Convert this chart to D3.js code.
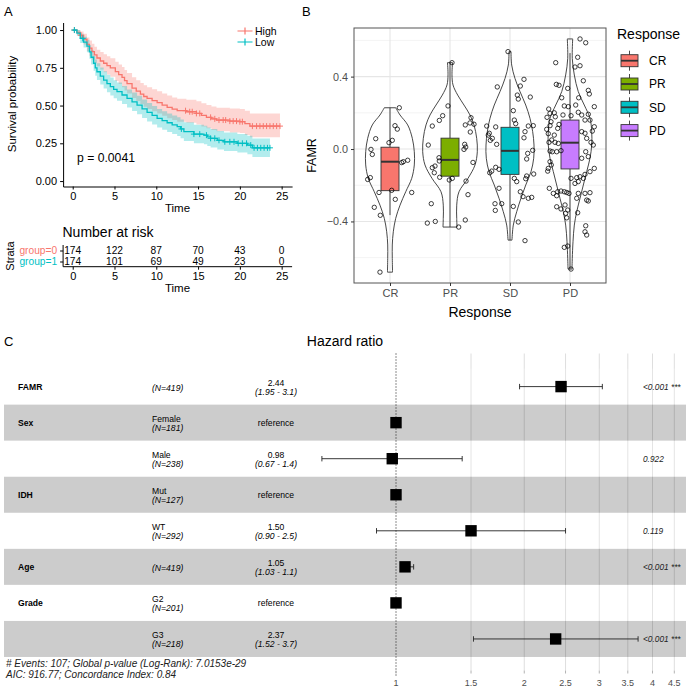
<!DOCTYPE html>
<html><head><meta charset="utf-8">
<script src="https://cdn.jsdelivr.net/npm/d3@7"></script>
<style>body{margin:0;background:#fff} text{font-family:"Liberation Sans",Arial,sans-serif}</style>
</head><body><svg id="c" width="690" height="689"></svg>
<script>
// ================= DATA =================
// Panel A: Kaplan-Meier
const strataLabels = ["High", "Low"];
const strataColors = ["#F8766D", "#00BFC4"];
const highTime = [0,0.5,0.9,1.3,1.7,2.0,2.3,2.6,2.9,3.3,3.7,4.1,4.5,5.1,5.5,5.9,6.2,6.5,7.1,7.6,8.1,8.5,8.9,9.5,10.1,10.7,11.3,11.9,12.5,13.6,14.8,15.4,16.0,16.6,17.2,18.8,20.0,20.6,21.2];
const highSurv = [1.0,0.985,0.965,0.94,0.905,0.88,0.857,0.835,0.815,0.795,0.78,0.765,0.75,0.725,0.705,0.686,0.665,0.645,0.615,0.595,0.576,0.56,0.547,0.533,0.519,0.503,0.488,0.476,0.466,0.459,0.448,0.435,0.422,0.412,0.404,0.397,0.393,0.38,0.364];
const highUpper = [1,1.0,0.99,0.975,0.95,0.93,0.91,0.89,0.87,0.855,0.84,0.826,0.813,0.79,0.772,0.755,0.735,0.715,0.687,0.667,0.65,0.635,0.622,0.608,0.595,0.58,0.566,0.554,0.545,0.538,0.528,0.516,0.503,0.494,0.486,0.48,0.477,0.465,0.448];
const highLower = [1,0.965,0.94,0.905,0.86,0.83,0.805,0.78,0.76,0.738,0.72,0.705,0.69,0.663,0.642,0.622,0.6,0.58,0.55,0.53,0.51,0.492,0.478,0.463,0.448,0.432,0.416,0.404,0.393,0.386,0.375,0.362,0.349,0.338,0.33,0.322,0.318,0.305,0.29];
const highEnd = 24.8;
const highCensor = [0.2,1.0,13.5,14.0,14.3,14.8,15.2,16.5,17.0,17.5,18.0,18.3,18.8,19.2,19.6,20.0,20.3,21.5,22.0,22.4,22.8,23.2,23.6,24.0,24.4,24.8];

const lowTime = [0,0.5,0.9,1.3,1.7,2.0,2.2,2.5,2.7,2.9,3.3,3.7,4.1,4.5,4.9,5.3,5.9,6.5,7.1,7.7,8.3,8.9,9.5,10.1,10.7,11.3,11.9,12.5,12.9,13.3,14.5,15.7,16.1,16.5,17.3,18.1,19.7,20.9,21.5];
const lowSurv = [1.0,0.98,0.945,0.92,0.894,0.855,0.82,0.78,0.75,0.724,0.695,0.669,0.645,0.625,0.607,0.592,0.57,0.547,0.525,0.503,0.478,0.455,0.435,0.415,0.4,0.386,0.372,0.36,0.345,0.327,0.311,0.304,0.293,0.283,0.27,0.26,0.25,0.238,0.22];
const lowUpper = [1,1.0,0.975,0.955,0.935,0.9,0.868,0.83,0.805,0.78,0.752,0.727,0.704,0.685,0.667,0.652,0.63,0.607,0.586,0.565,0.54,0.517,0.497,0.477,0.462,0.448,0.434,0.422,0.407,0.389,0.373,0.366,0.355,0.345,0.332,0.322,0.312,0.3,0.282];
const lowLower = [1,0.96,0.915,0.885,0.853,0.81,0.772,0.73,0.697,0.67,0.64,0.613,0.588,0.567,0.548,0.532,0.51,0.487,0.464,0.442,0.417,0.394,0.374,0.354,0.339,0.325,0.311,0.299,0.284,0.266,0.25,0.243,0.232,0.222,0.209,0.199,0.189,0.177,0.16];
const lowEnd = 23.6;
const lowCensor = [0.2,1.2,13.0,14.5,15.2,16.0,16.5,17.0,17.5,18.2,18.8,19.3,19.8,20.3,20.8,21.3,21.7,22.1,22.5,22.9,23.3,23.6];

const timeTicks = [0,5,10,15,20,25];
const survTicks = [0,0.25,0.5,0.75,1];
const riskGroups = ["group=0","group=1"];
const risk0 = [174,122,87,70,43,0];
const risk1 = [174,101,69,49,23,0];

// Panel B: violin/box
const respCats = ["CR","PR","SD","PD"];
const respColors = ["#F8766D","#7CAE00","#00BFC4","#C77CFF"];
const boxLow  = [-0.365,-0.431,-0.503,-0.663];
const boxQ1   = [-0.23,-0.15,-0.14,-0.11];
const boxMed  = [-0.07,-0.06,-0.01,0.035];
const boxQ3   = [0.01,0.06,0.12,0.16];
const boxHigh = [0.228,0.477,0.385,0.53];
const famrTicks = [-0.4,0,0.4];
const famrMinor = [-0.6,-0.2,0.2,0.6];
// violin outline: [FAMR value, half width in category units]
const violinCR = [[0.228,0.095],[0.188,0.167],[0.133,0.295],[0.059,0.372],[-0.015,0.405],[-0.088,0.405],[-0.162,0.362],[-0.236,0.262],[-0.31,0.167],[-0.383,0.095],[-0.457,0.055],[-0.53,0.038],[-0.604,0.038],[-0.68,0.042]];
const violinPR = [[0.477,0.042],[0.41,0.033],[0.354,0.05],[0.298,0.128],[0.243,0.233],[0.188,0.333],[0.133,0.4],[0.059,0.445],[-0.015,0.455],[-0.088,0.417],[-0.162,0.3],[-0.236,0.15],[-0.31,0.112],[-0.383,0.112],[-0.431,0.117]];
const violinSD = [[0.538,0.017],[0.464,0.028],[0.39,0.083],[0.317,0.167],[0.243,0.262],[0.17,0.333],[0.096,0.378],[0.022,0.4],[-0.051,0.395],[-0.125,0.35],[-0.199,0.262],[-0.272,0.183],[-0.346,0.112],[-0.42,0.055],[-0.503,0.033]];
const violinPD = [[0.608,0.045],[0.5,0.038],[0.409,0.072],[0.317,0.138],[0.243,0.238],[0.17,0.333],[0.096,0.362],[0.022,0.362],[-0.051,0.333],[-0.125,0.278],[-0.199,0.222],[-0.272,0.167],[-0.346,0.112],[-0.42,0.072],[-0.512,0.05],[-0.604,0.038],[-0.663,0.033]];
// jittered points: [jitter in category units, FAMR value]
const pointsCR = [[0.155,0.228],[0.083,0.129],[0.122,0.11],[-0.238,0.057],[0.038,0.048],[-0.017,0.035],[-0.317,-0.002],[-0.295,-0.03],[0.222,-0.07],[0.295,-0.062],[0.195,-0.075],[-0.328,-0.158],[-0.372,-0.168],[-0.183,-0.24],[0.028,-0.228],[0.362,-0.24],[0.088,-0.278],[-0.262,-0.322],[-0.162,-0.366],[-0.167,-0.68]];
const pointsPR = [[0.033,0.477],[-0.033,0.238],[-0.122,0.184],[-0.178,0.158],[-0.295,0.127],[0.35,0.173],[0.333,0.144],[0.4,0.137],[0.255,0.133],[0.338,0.094],[-0.362,0.022],[0.245,0.026],[0.262,0.011],[0.233,-0.002],[-0.183,-0.048],[-0.178,-0.066],[0.383,-0.074],[-0.25,-0.094],[-0.295,-0.103],[-0.262,-0.131],[-0.172,-0.156],[0.038,-0.162],[-0.012,-0.171],[0.267,-0.177],[0.3,-0.252],[-0.312,-0.302],[-0.378,-0.409],[-0.245,-0.40],[0.255,-0.392],[0.145,-0.431]];
const pointsSD = [[-0.033,0.538],[0.233,0.385],[-0.212,0.343],[0.172,0.348],[0.122,0.298],[0.138,0.276],[0.338,0.287],[0.055,0.212],[0.072,0.16],[0.095,0.14],[0.305,0.127],[0.388,0.129],[-0.388,0.127],[-0.238,0.122],[-0.345,0.087],[-0.295,0.059],[-0.362,0.077],[-0.328,0.048],[0.25,0.096],[0.233,0.062],[-0.222,0.026],[0.295,-0.024],[0.378,-0.007],[0.278,-0.055],[-0.238,-0.101],[-0.183,-0.112],[-0.305,-0.122],[-0.338,-0.131],[0.395,-0.138],[0.278,-0.149],[0.262,-0.164],[0.072,-0.162],[0.112,-0.18],[-0.183,-0.217],[0.172,-0.236],[0.217,-0.263],[0.305,-0.272],[0.362,-0.267],[-0.25,-0.302],[-0.138,-0.302],[-0.245,-0.339],[0.055,-0.317],[0.138,-0.403],[0.25,-0.506]];
const pointsPD = [[0.167,0.608],[0.262,0.587],[-0.238,0.477],[0.128,0.507],[0.167,0.46],[0.083,0.453],[0.222,0.377],[-0.228,0.357],[-0.183,0.352],[-0.038,0.335],[0.305,0.324],[0.322,0.304],[0.145,0.283],[-0.138,0.283],[0.405,0.234],[-0.095,0.238],[-0.028,0.234],[0.095,0.243],[-0.355,0.221],[-0.333,0.197],[-0.383,0.175],[-0.262,0.2],[-0.245,0.178],[-0.117,0.188],[0.017,0.184],[0.138,0.203],[0.195,0.188],[0.305,0.192],[0.25,0.16],[0.333,0.16],[0.405,0.123],[0.372,0.099],[-0.317,0.151],[-0.333,0.129],[-0.388,0.109],[-0.362,0.085],[-0.262,0.077],[-0.205,0.114],[-0.183,0.136],[0.25,0.087],[0.195,0.096],[0.278,0.059],[0.35,0.037],[0.388,0.022],[-0.305,0.05],[-0.35,0.037],[-0.25,0.037],[-0.195,0.031],[-0.333,-0.011],[-0.295,-0.015],[-0.222,-0.015],[-0.15,-0.009],[0.262,-0.015],[0.305,-0.042],[0.195,-0.051],[-0.333,-0.07],[-0.312,-0.088],[-0.362,-0.107],[-0.372,-0.122],[0.405,-0.107],[0.333,-0.125],[0.25,-0.14],[0.017,-0.162],[0.112,-0.158],[0.167,-0.153],[0.222,-0.162],[0.138,-0.18],[0.083,-0.19],[-0.345,-0.217],[-0.205,-0.236],[-0.15,-0.232],[-0.095,-0.236],[-0.055,-0.24],[-0.278,-0.245],[-0.222,-0.258],[-0.017,-0.245],[0.138,-0.245],[0.25,-0.245],[0.333,-0.241],[0.112,-0.272],[0.278,-0.282],[0.305,-0.287],[-0.083,-0.309],[-0.222,-0.319],[-0.038,-0.337],[-0.15,-0.331],[-0.072,-0.355],[0.128,-0.352],[-0.055,-0.38],[0.262,-0.424],[0.25,-0.457],[0.278,-0.475],[-0.095,-0.543],[-0.038,-0.536],[0.017,-0.663]];

// Panel C: forest plot
const fVars   = ["FAMR","Sex","","IDH","","Age","Grade",""];
const fLevels = ["","Female","Male","Mut","WT","","G2","G3"];
const fN      = [419,181,238,127,292,419,201,218];
const fHR     = [2.44,1,0.98,1,1.50,1.05,1,2.37];
const fLow    = [1.95,null,0.67,null,0.90,1.03,null,1.52];
const fHigh   = [3.05,null,1.43,null,2.5,1.1,null,3.7];
const fHRText = ["2.44","reference","0.98","reference","1.50","1.05","reference","2.37"];
const fCIText = ["(1.95 - 3.1)","","(0.67 - 1.4)","","(0.90 - 2.5)","(1.03 - 1.1)","","(1.52 - 3.7)"];
const fPText  = ["<0.001 ***","","0.922","","0.119","<0.001 ***","","<0.001 ***"];
const hrTicks = [1,1.5,2,2.5,3,3.5,4,4.5];
const footer1 = "# Events: 107; Global p-value (Log-Rank): 7.0153e-29";
const footer2 = "AIC: 916.77; Concordance Index: 0.84";

// ================= DRAW =================
const svg = d3.select("#c");
svg.append("rect").attr("width",690).attr("height",689).attr("fill","#fff");

function label(x,y,t,size){
  svg.append("text").attr("x",x).attr("y",y).attr("font-size",size).text(t);
}
label(4,15.5,"A",13);
label(302,15.5,"B",13);
label(4,346,"C",13);

// ---------- Panel A ----------
const gA = svg.append("g");
const xA = d3.scaleLinear().domain([-1.15,26.25]).range([63.1,292.1]);
const yA = d3.scaleLinear().domain([-0.036,1.05]).range([186.5,22.5]);

function styleAxis(g, size, color){
  g.selectAll("path.domain").attr("stroke","#000").attr("stroke-width",1);
  g.selectAll(".tick line").attr("stroke","#000");
  g.selectAll(".tick text").attr("font-size",size).attr("fill",color||"#000")
    .attr("font-family","Liberation Sans, Arial, sans-serif");
}
const axAx = gA.append("g").attr("transform","translate(0,186.5)")
  .call(d3.axisBottom(xA).tickValues(timeTicks).tickSize(3).tickSizeOuter(0));
styleAxis(axAx,11);
const axAy = gA.append("g").attr("transform","translate(63.1,0)")
  .call(d3.axisLeft(yA).tickValues(survTicks).tickFormat(d3.format(".2f")).tickSize(3).tickSizeOuter(0));
styleAxis(axAy,11);

const groups = [
  {t:highTime,s:highSurv,u:highUpper,l:highLower,end:highEnd,c:highCensor,col:strataColors[0]},
  {t:lowTime,s:lowSurv,u:lowUpper,l:lowLower,end:lowEnd,c:lowCensor,col:strataColors[1]}
];
groups.forEach(g=>{
  const pts = g.t.map((t,i)=>({t:t,s:g.s[i],u:g.u[i],l:g.l[i]}));
  const last = pts[pts.length-1];
  pts.push({t:g.end,s:last.s,u:last.u,l:last.l});
  g.pts = pts;
  gA.append("path").datum(pts)
    .attr("d",d3.area().curve(d3.curveStepAfter).x(d=>xA(d.t)).y0(d=>yA(d.l)).y1(d=>yA(d.u)))
    .attr("fill",g.col).attr("fill-opacity",0.3).attr("stroke","none");
});
groups.forEach(g=>{
  gA.append("path").datum(g.pts)
    .attr("d",d3.line().curve(d3.curveStepAfter).x(d=>xA(d.t)).y(d=>yA(d.s)))
    .attr("fill","none").attr("stroke",g.col).attr("stroke-width",1.3);
  const survAt = t=>{let v=g.s[0];g.t.forEach((tt,i)=>{if(tt<=t)v=g.s[i];});return v;};
  g.c.forEach(t=>{
    const cx=xA(t), cy=yA(survAt(t));
    gA.append("path").attr("d",`M${cx-3},${cy}H${cx+3}M${cx},${cy-3}V${cy+3}`)
      .attr("stroke",g.col).attr("stroke-width",1);
  });
});
// legend
strataLabels.forEach((lab,i)=>{
  const y = 31 + i*11;
  gA.append("path").attr("d",`M237.5,${y}H252.5M245,${y-3.5}V${y+3.5}`).attr("stroke",strataColors[i]).attr("stroke-width",1.2);
  gA.append("text").attr("x",255).attr("y",y+3.8).attr("font-size",10.5).text(lab);
});
gA.append("text").attr("x",77).attr("y",161.5).attr("font-size",12.2).text("p = 0.0041");
gA.append("text").attr("transform","translate(15.5,104) rotate(-90)").attr("text-anchor","middle").attr("font-size",11.5).text("Survival probability");
gA.append("text").attr("x",177.5).attr("y",212).attr("text-anchor","middle").attr("font-size",11.5).text("Time");

// risk table
const yR = d3.scalePoint().domain(riskGroups).range([250.5,261.5]);
gA.append("text").attr("x",62.5).attr("y",237).attr("font-size",14).text("Number at risk");
const rx = gA.append("g").attr("transform","translate(0,266.7)")
  .call(d3.axisBottom(xA).tickValues(timeTicks).tickSize(3).tickSizeOuter(0));
styleAxis(rx,11);
rx.select("path.domain").attr("d","M63.1,0H292.1");
const ry = gA.append("g").attr("transform","translate(63.1,0)")
  .call(d3.axisLeft(yR).tickSize(3).tickSizeOuter(0));
styleAxis(ry,10.2);
ry.select("path.domain").attr("d","M0,245V266.7");
ry.selectAll(".tick text").attr("fill",(d,i)=>strataColors[i]);
[risk0,risk1].forEach((arr,gi)=>{
  arr.forEach((v,i)=>{
    gA.append("text").attr("x",xA(timeTicks[i])).attr("y",yR(riskGroups[gi])+3.7)
      .attr("text-anchor","middle").attr("font-size",10.2).text(v);
  });
});
gA.append("text").attr("x",177.5).attr("y",292).attr("text-anchor","middle").attr("font-size",11.5).text("Time");
gA.append("text").attr("transform","translate(14,256) rotate(-90)").attr("text-anchor","middle").attr("font-size",11).text("Strata");

// ---------- Panel B ----------
const gB = svg.append("g");
const xB = d3.scaleLinear().domain([-0.6,3.6]).range([354,606]);
const yB = d3.scaleLinear().domain([-0.740,0.6685]).range([283,28]);
gB.append("rect").attr("x",354).attr("y",28).attr("width",252).attr("height",255).attr("fill","#fff");
famrMinor.forEach(v=>gB.append("line").attr("x1",354).attr("x2",606).attr("y1",yB(v)).attr("y2",yB(v)).attr("stroke","#ebebeb").attr("stroke-width",0.6));
famrTicks.forEach(v=>gB.append("line").attr("x1",354).attr("x2",606).attr("y1",yB(v)).attr("y2",yB(v)).attr("stroke","#e6e6e6").attr("stroke-width",1.1));
respCats.forEach((c,i)=>gB.append("line").attr("x1",xB(i)).attr("x2",xB(i)).attr("y1",28).attr("y2",283).attr("stroke","#e6e6e6").attr("stroke-width",1.1));

const violins = [violinCR,violinPR,violinSD,violinPD];
const points = [pointsCR,pointsPR,pointsSD,pointsPD];
violins.forEach((v,i)=>{
  gB.append("path").datum(v)
    .attr("d",d3.area().curve(d3.curveCatmullRom).y(d=>yB(d[0])).x0(d=>xB(i-d[1])).x1(d=>xB(i+d[1])))
    .attr("fill","none").attr("stroke","#333").attr("stroke-width",0.9);
});
respCats.forEach((c,i)=>{
  const cx = xB(i), bw = xB(0.15)-xB(0);
  gB.append("line").attr("x1",cx).attr("x2",cx).attr("y1",yB(boxHigh[i])).attr("y2",yB(boxQ3[i])).attr("stroke","#333").attr("stroke-width",0.9);
  gB.append("line").attr("x1",cx).attr("x2",cx).attr("y1",yB(boxQ1[i])).attr("y2",yB(boxLow[i])).attr("stroke","#333").attr("stroke-width",0.9);
  gB.append("rect").attr("x",cx-bw).attr("width",2*bw).attr("y",yB(boxQ3[i])).attr("height",yB(boxQ1[i])-yB(boxQ3[i]))
    .attr("fill",respColors[i]).attr("stroke","#333").attr("stroke-width",0.9);
  gB.append("line").attr("x1",cx-bw).attr("x2",cx+bw).attr("y1",yB(boxMed[i])).attr("y2",yB(boxMed[i])).attr("stroke","#333").attr("stroke-width",2);
});
points.forEach((p,i)=>{
  p.forEach(d=>gB.append("circle").attr("cx",xB(i+d[0])).attr("cy",yB(d[1])).attr("r",2.2)
    .attr("fill","none").attr("stroke","#000").attr("stroke-width",0.75));
});
gB.append("rect").attr("x",354).attr("y",28).attr("width",252).attr("height",255).attr("fill","none").attr("stroke","#555").attr("stroke-width",1);
const bx = gB.append("g").attr("transform","translate(0,283)")
  .call(d3.axisBottom(xB).tickValues([0,1,2,3]).tickFormat(i=>respCats[i]).tickSize(3).tickSizeOuter(0));
bx.select("path.domain").remove();
bx.selectAll(".tick line").attr("stroke","#333");
bx.selectAll(".tick text").attr("font-size",11).attr("fill","#4d4d4d").attr("font-family","Liberation Sans, Arial, sans-serif");
const by = gB.append("g").attr("transform","translate(354,0)")
  .call(d3.axisLeft(yB).tickValues(famrTicks).tickFormat(d3.format(".1f")).tickSize(3).tickSizeOuter(0));
by.select("path.domain").remove();
by.selectAll(".tick line").attr("stroke","#333");
by.selectAll(".tick text").attr("font-size",10.8).attr("fill","#4d4d4d").attr("font-family","Liberation Sans, Arial, sans-serif");
gB.append("text").attr("x",480).attr("y",316.5).attr("text-anchor","middle").attr("font-size",14).text("Response");
gB.append("text").attr("transform","translate(316,155.5) rotate(-90)").attr("text-anchor","middle").attr("font-size",12.5).text("FAMR");
// legend
gB.append("text").attr("x",617).attr("y",39).attr("font-size",14).text("Response");
respCats.forEach((c,i)=>{
  const ky = 60.7 + i*23.3;
  gB.append("line").attr("x1",629.5).attr("x2",629.5).attr("y1",ky-10).attr("y2",ky+10).attr("stroke","#333").attr("stroke-width",0.9);
  gB.append("rect").attr("x",621).attr("y",ky-6).attr("width",17).attr("height",12).attr("fill",respColors[i]).attr("stroke","#333").attr("stroke-width",0.9);
  gB.append("line").attr("x1",621).attr("x2",638).attr("y1",ky).attr("y2",ky).attr("stroke","#333").attr("stroke-width",1.8);
  gB.append("text").attr("x",649).attr("y",ky+4.3).attr("font-size",12).text(c);
});

// ---------- Panel C ----------
const gC = svg.append("g");
const xC = d3.scaleLog().domain([1,4.5]).range([396,674.3]);
const rowY = i => 386.6 + i*36.05;
const panelTop = 353.5, panelBot = 670.5;
gC.append("text").attr("x",345).attr("y",346).attr("text-anchor","middle").attr("font-size",14).text("Hazard ratio");
hrTicks.filter(t=>t!==1).forEach(t=>{
  gC.append("line").attr("x1",xC(t)).attr("x2",xC(t)).attr("y1",panelTop).attr("y2",panelBot).attr("stroke","#dedede").attr("stroke-width",1);
});
fVars.forEach((v,i)=>{
  gC.append("rect").attr("x",4).attr("width",682).attr("y",rowY(i)-18.02).attr("height",36.05)
    .attr("fill", i%2===1 ? "rgba(0,0,0,0.2)" : "rgba(255,255,255,0.2)");
});
gC.append("line").attr("x1",xC(1)).attr("x2",xC(1)).attr("y1",panelTop).attr("y2",panelBot+6)
  .attr("stroke","#000").attr("stroke-width",0.9).attr("stroke-dasharray","1,2");
const fs = 8.6;
fVars.forEach((v,i)=>{
  const c = rowY(i);
  if(v) gC.append("text").attr("x",18).attr("y",c+3.5).attr("font-size",fs).attr("font-weight","bold").text(v);
  if(fLevels[i]){
    gC.append("text").attr("x",152).attr("y",c-1).attr("font-size",fs).text(fLevels[i]);
    gC.append("text").attr("x",152).attr("y",c+8).attr("font-size",fs).attr("font-style","italic").text(`(N=${fN[i]})`);
  } else {
    gC.append("text").attr("x",152).attr("y",c+4).attr("font-size",fs).attr("font-style","italic").text(`(N=${fN[i]})`);
  }
  if(fCIText[i]){
    gC.append("text").attr("x",276).attr("y",c-1).attr("text-anchor","middle").attr("font-size",fs).text(fHRText[i]);
    gC.append("text").attr("x",276).attr("y",c+8).attr("text-anchor","middle").attr("font-size",fs).attr("font-style","italic").text(fCIText[i]);
  } else {
    gC.append("text").attr("x",276).attr("y",c+3.5).attr("text-anchor","middle").attr("font-size",fs).text(fHRText[i]);
  }
  if(fPText[i]) gC.append("text").attr("x",643).attr("y",c+3).attr("font-size",8.3).attr("font-style","italic").attr("fill","#222").text(fPText[i]);
  if(fLow[i]!==null){
    const x1=xC(fLow[i]), x2=xC(fHigh[i]);
    gC.append("path").attr("d",`M${x1},${c}H${x2}M${x1},${c-2.7}V${c+2.7}M${x2},${c-2.7}V${c+2.7}`)
      .attr("stroke","#222").attr("stroke-width",0.9).attr("fill","none");
  }
  gC.append("rect").attr("x",xC(fHR[i])-5.7).attr("y",c-5.7).attr("width",11.4).attr("height",11.4).attr("fill","#000");
});
hrTicks.forEach(t=>{
  gC.append("line").attr("x1",xC(t)).attr("x2",xC(t)).attr("y1",panelBot).attr("y2",panelBot+3).attr("stroke","#b3b3b3");
  gC.append("text").attr("x",xC(t)).attr("y",685.5).attr("text-anchor","middle").attr("font-size",9).attr("fill","#4d4d4d").text(t);
});
gC.append("text").attr("x",6).attr("y",667).attr("font-size",10).attr("font-style","italic").attr("fill","#222").text(footer1);
gC.append("text").attr("x",6).attr("y",677.5).attr("font-size",10).attr("font-style","italic").attr("fill","#222").text(footer2);
</script></body></html>
